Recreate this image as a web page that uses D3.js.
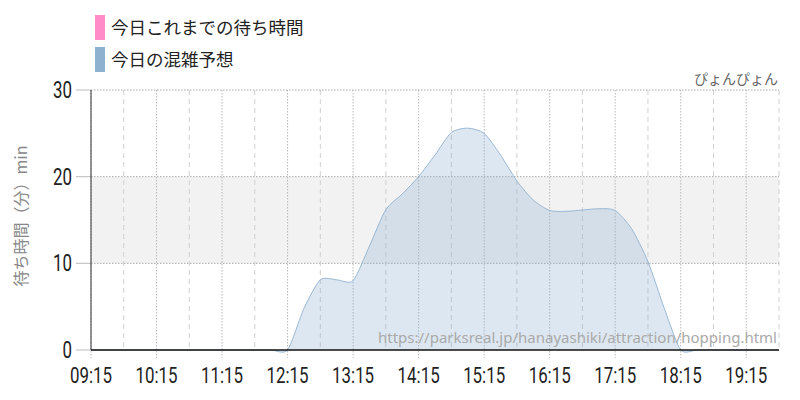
<!DOCTYPE html>
<html>
<head>
<meta charset="utf-8">
<script src="https://cdn.jsdelivr.net/npm/d3@7"></script>
<style>
  body { margin: 0; background: #fff; }
  svg  { display: block; }
</style>
</head>
<body>
<svg id="chart" width="800" height="400"></svg>
<script>
/* ── Data ─────────────────────────────────────────────── */
const times = [
  '09:15','09:30','09:45','10:00','10:15','10:30','10:45','11:00','11:15','11:30','11:45',
  '12:00','12:15','12:30','12:45','13:00','13:15','13:30','13:45','14:00','14:15','14:30',
  '14:45','15:00','15:15','15:30','15:45','16:00','16:15','16:30','16:45','17:00','17:15',
  '17:30','17:45','18:00','18:15','18:30','18:45','19:00','19:15','19:30','19:45'
];
const forecast = [
  0, 0, 0, 0, 0, 0, 0, 0, 0, 0, 0,
  0, 0, 4.8, 8.1, 8.1, 8.0, 12.0, 16.2, 18.0, 20.0, 22.5,
  25.1, 25.6, 25.0, 22.5, 19.5, 17.3, 16.1, 16.0, 16.15, 16.3, 16.1,
  14.0, 10.2, 4.8, 0, 0, 0, 0, 0, 0, 0
];
const actual   = [];   // 今日これまでの待ち時間 (no data yet)
const xTicks   = ['09:15','10:15','11:15','12:15','13:15','14:15','15:15','16:15','17:15','18:15','19:15'];
const yTicks   = [0, 10, 20, 30];
const legend   = [
  { label: '今日これまでの待ち時間', color: '#ff8cc8' },
  { label: '今日の混雑予想',         color: '#8fb1d0' }
];

/* ── Layout ───────────────────────────────────────────── */
const M = { left: 91, right: 21, top: 90, bottom: 50 };
const W = 800, H = 400;
const svg = d3.select('#chart');
const parse = d3.timeParse('%H:%M');
const NUM = 'Roboto, sans-serif';
const JP  = '"Noto Sans CJK JP", sans-serif';

const x = d3.scaleTime()
  .domain([parse(times[0]), parse(times[times.length - 1])])
  .range([M.left, W - M.right]);
const y = d3.scaleLinear().domain([0, 30]).range([H - M.bottom, M.top]);

/* ── Band 10–20 ───────────────────────────────────────── */
svg.append('rect')
  .attr('x', M.left).attr('width', W - M.right - M.left)
  .attr('y', y(20)).attr('height', y(10) - y(20))
  .attr('fill', '#f2f2f2');

/* ── Vertical grid ────────────────────────────────────── */
const halfHours = times.filter((t, i) => i % 2 === 0);
svg.append('g').selectAll('line')
  .data(halfHours).join('line')
  .attr('x1', d => x(parse(d))).attr('x2', d => x(parse(d)))
  .attr('y1', M.top)
  .attr('y2', d => xTicks.includes(d) ? y(0) + 8 : y(0))
  .attr('stroke', d => xTicks.includes(d) ? '#bbb' : '#d0d0d0')
  .attr('stroke-dasharray', d => xTicks.includes(d) ? '1.5,1.5' : '5,4');

/* ── Horizontal grid + y ticks ────────────────────────── */
svg.append('g').selectAll('line')
  .data(yTicks.filter(d => d > 0)).join('line')
  .attr('x1', M.left).attr('x2', W - M.right)
  .attr('y1', d => y(d)).attr('y2', d => y(d))
  .attr('stroke', '#aaa').attr('stroke-dasharray', '1.5,1.5');

svg.append('g').selectAll('line')
  .data(yTicks).join('line')
  .attr('x1', M.left - 15).attr('x2', M.left)
  .attr('y1', d => y(d)).attr('y2', d => y(d))
  .attr('stroke', '#bbb');

svg.append('g').selectAll('text')
  .data(yTicks).join('text')
  .attr('x', M.left - 19).attr('y', d => y(d) + 8)
  .attr('text-anchor', 'end')
  .attr('textLength', d => String(d).length * 9.5)
  .attr('lengthAdjust', 'spacingAndGlyphs')
  .style('font-family', NUM).style('font-size', '23px').style('fill', '#222')
  .text(d => d);

/* ── Area (forecast) ──────────────────────────────────── */
const pts = times.map((t, i) => ({ t: parse(t), v: forecast[i] }));
const curve = d3.curveCardinal.tension(0.3);

svg.append('path')
  .datum(pts)
  .attr('d', d3.area().x(d => x(d.t)).y0(y(0)).y1(d => y(d.v)).curve(curve))
  .attr('fill', 'rgba(143,177,208,0.3)');

svg.append('path')
  .datum(pts)
  .attr('d', d3.line().x(d => x(d.t)).y(d => y(d.v)).curve(curve))
  .attr('fill', 'none').attr('stroke', '#9ab8d4').attr('stroke-width', 1);

/* ── Axes lines ───────────────────────────────────────── */
svg.append('line')
  .attr('x1', M.left).attr('x2', M.left).attr('y1', M.top).attr('y2', y(0))
  .attr('stroke', '#333');
svg.append('line')
  .attr('x1', M.left).attr('x2', W - M.right).attr('y1', y(0)).attr('y2', y(0))
  .attr('stroke', '#111').attr('stroke-width', 1.5);

/* ── X labels ─────────────────────────────────────────── */
svg.append('g').selectAll('text')
  .data(xTicks).join('text')
  .attr('x', d => x(parse(d)) - 21).attr('y', 383)
  .attr('textLength', 42)
  .attr('lengthAdjust', 'spacingAndGlyphs')
  .style('font-family', NUM).style('font-size', '22px').style('fill', '#222')
  .text(d => d);

/* ── Y axis title ─────────────────────────────────────── */
svg.append('text')
  .attr('transform', `translate(27,216) rotate(-90)`)
  .attr('text-anchor', 'middle')
  .style('font-family', JP).style('font-size', '16px').style('fill', '#888')
  .text('待ち時間（分）min');

/* ── Watermark + site name ────────────────────────────── */
svg.append('text')
  .attr('x', 777).attr('y', 343)
  .attr('text-anchor', 'end')
  .style('font-family', '"Noto Sans", sans-serif').style('font-size', '15px').style('fill', '#aaa')
  .text('https://parksreal.jp/hanayashiki/attraction/hopping.html');

svg.append('text')
  .attr('x', 778).attr('y', 84)
  .attr('text-anchor', 'end')
  .style('font-family', JP).style('font-size', '14px').style('fill', '#666')
  .text('ぴょんぴょん');

/* ── Legend ───────────────────────────────────────────── */
const lg = svg.append('g').selectAll('g')
  .data(legend).join('g')
  .attr('transform', (d, i) => `translate(95,${15 + i * 32})`);
lg.append('rect')
  .attr('width', 10).attr('height', 25)
  .attr('fill', d => d.color);
lg.append('text')
  .attr('x', 16).attr('y', 19)
  .style('font-family', JP).style('font-size', '17.5px').style('fill', '#222')
  .text(d => d.label);
</script>
</body>
</html>
